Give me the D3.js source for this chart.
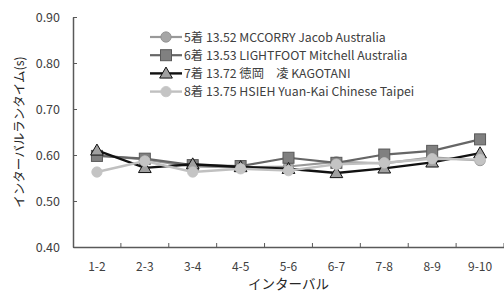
<!DOCTYPE html>
<html>
<head>
<meta charset="utf-8">
<script src="https://cdn.jsdelivr.net/npm/d3@7"></script>
<style>
  body { margin: 0; background: #fff; }
  text { font-family: "Noto Sans CJK JP", "Noto Sans", sans-serif; }
</style>
</head>
<body>
<svg id="chart" width="504" height="293"></svg>
<script>
const intervals = ["1-2", "2-3", "3-4", "4-5", "5-6", "6-7", "7-8", "8-9", "9-10"];
const yTicks = [0.40, 0.50, 0.60, 0.70, 0.80, 0.90];

const mccorry = [0.600, 0.590, 0.575, 0.573, 0.575, 0.585, 0.582, 0.595, 0.588];
const lightfoot = [0.598, 0.592, 0.578, 0.576, 0.594, 0.583, 0.601, 0.609, 0.634];
const kagotani = [0.610, 0.572, 0.580, 0.574, 0.570, 0.561, 0.571, 0.584, 0.604];
const hsieh = [0.563, 0.587, 0.563, 0.570, 0.566, 0.580, 0.583, 0.592, 0.590];

const seriesNames = [
  "5着 13.52 MCCORRY Jacob Australia",
  "6着 13.53 LIGHTFOOT Mitchell Australia",
  "7着 13.72 徳岡　凌 KAGOTANI",
  "8着 13.75 HSIEH Yuan-Kai Chinese Taipei"
];

const series = [
  { name: seriesNames[0], values: mccorry, line: "#999999", width: 2.2, shape: "circle", fill: "#a6a6a6", stroke: "#8c8c8c" },
  { name: seriesNames[1], values: lightfoot, line: "#666666", width: 2.2, shape: "square", fill: "#808080", stroke: "#595959" },
  { name: seriesNames[2], values: kagotani, line: "#111111", width: 2.4, shape: "triangle", fill: "#a0a0a0", stroke: "#111111" },
  { name: seriesNames[3], values: hsieh, line: "#c0c0c0", width: 2.4, shape: "circle", fill: "#c4c4c4", stroke: "#c4c4c4" }
];

const svg = d3.select("#chart");
const plotLeft = 73, plotRight = 504, plotTop = 17, plotBottom = 247;

const x = d3.scaleBand().domain(intervals).range([plotLeft, plotRight]);
const y = d3.scaleLinear().domain([0.4, 0.9]).range([plotBottom, plotTop]);
const axisColor = "#595959";

// y axis
const yAxis = svg.append("g")
  .attr("transform", `translate(${plotLeft},0)`)
  .call(d3.axisLeft(y).tickValues(yTicks).tickFormat(d3.format(".2f")).tickSizeInner(-4).tickSizeOuter(0).tickPadding(13));
yAxis.select(".domain").attr("stroke", axisColor).attr("stroke-width", 1.5);
yAxis.selectAll(".tick line").attr("stroke", axisColor);
yAxis.selectAll("text").attr("font-size", 12.5).attr("fill", "#404040");

// x axis
const xAxis = svg.append("g")
  .attr("transform", `translate(0,${plotBottom})`)
  .call(d3.axisBottom(x).tickSize(0).tickPadding(15));
xAxis.select(".domain").attr("stroke", axisColor).attr("stroke-width", 1.5);
xAxis.selectAll("text").attr("font-size", 12).attr("fill", "#404040");
xAxis.selectAll(".boundary")
  .data(intervals)
  .join("line")
  .attr("class", "boundary")
  .attr("x1", d => x(d) + x.bandwidth())
  .attr("x2", d => x(d) + x.bandwidth())
  .attr("y1", 0).attr("y2", -4)
  .attr("stroke", axisColor);

// axis titles
svg.append("text")
  .attr("transform", `translate(24,${(plotTop + plotBottom) / 2}) rotate(-90)`)
  .attr("text-anchor", "middle")
  .attr("font-size", 12.5)
  .attr("fill", "#262626")
  .text("インターバルランタイム(s)");

svg.append("text")
  .attr("x", (plotLeft + plotRight) / 2)
  .attr("y", 289)
  .attr("text-anchor", "middle")
  .attr("font-size", 13.5)
  .attr("fill", "#262626")
  .text("インターバル");

const cx = d => x(d) + x.bandwidth() / 2;
const line = d3.line().x((d, i) => cx(intervals[i])).y(d => y(d));

const drawMarker = (g, s, px, py) => {
  if (s.shape === "circle") {
    g.append("circle").attr("cx", px).attr("cy", py).attr("r", 5.2)
      .attr("fill", s.fill).attr("stroke", s.stroke).attr("stroke-width", 0.8);
  } else if (s.shape === "square") {
    g.append("rect").attr("x", px - 5.5).attr("y", py - 5.5).attr("width", 11).attr("height", 11)
      .attr("fill", s.fill).attr("stroke", s.stroke).attr("stroke-width", 1);
  } else {
    g.append("path")
      .attr("d", d3.symbol().type(d3.symbolTriangle).size(70)())
      .attr("transform", `translate(${px},${py + 1})`)
      .attr("fill", s.fill).attr("stroke", s.stroke).attr("stroke-width", 1);
  }
};

series.forEach(s => {
  const g = svg.append("g");
  g.append("path")
    .attr("d", line(s.values))
    .attr("fill", "none")
    .attr("stroke", s.line)
    .attr("stroke-width", s.width);
  s.values.forEach((v, i) => drawMarker(g, s, cx(intervals[i]), y(v)));
});

// legend
const legend = svg.append("g");
series.forEach((s, i) => {
  const ly = 37 + i * 18.2;
  const g = legend.append("g");
  g.append("line").attr("x1", 150).attr("x2", 182).attr("y1", ly).attr("y2", ly)
    .attr("stroke", s.line).attr("stroke-width", s.width);
  drawMarker(g, s, 166, ly);
  g.append("text")
    .attr("x", 184).attr("y", ly + 4.5)
    .attr("font-size", 12.3)
    .attr("fill", "#404040")
    .text(s.name);
});
</script>
</body>
</html>
